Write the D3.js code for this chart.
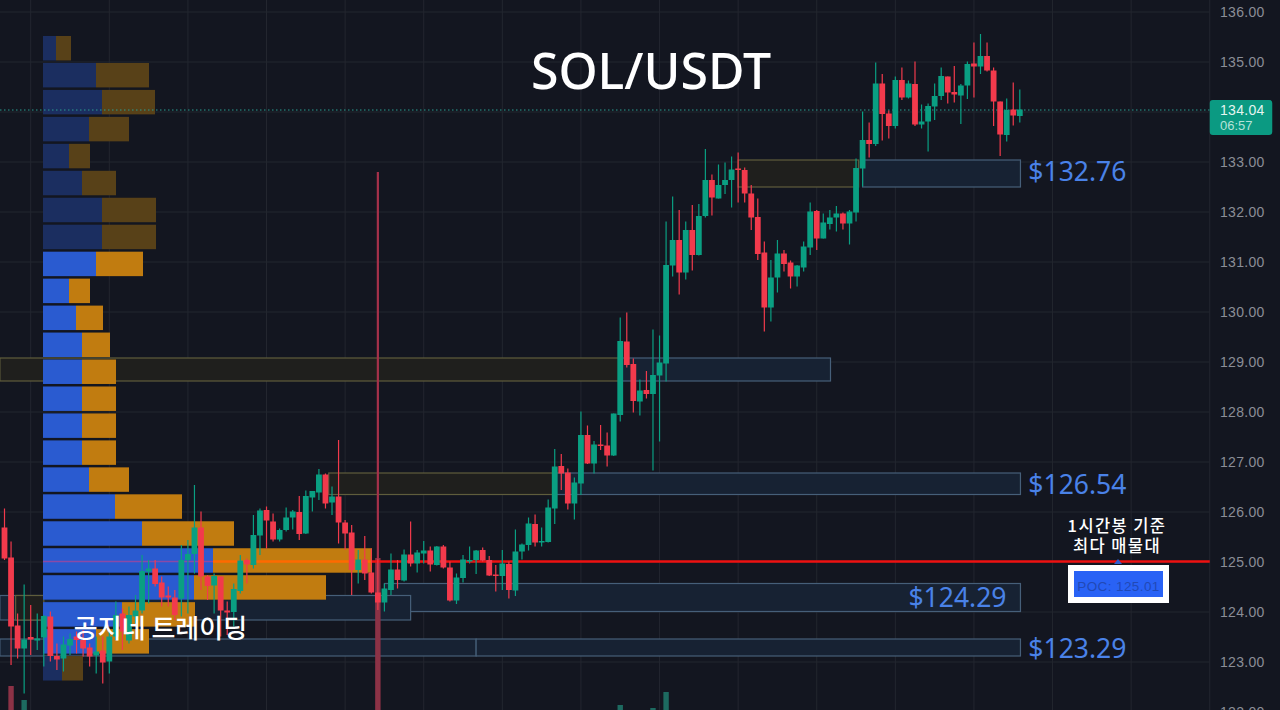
<!DOCTYPE html>
<html>
<head>
<meta charset="utf-8">
<script src="https://cdn.jsdelivr.net/npm/d3@7"></script>
<style>
  body { margin:0; background:#131620; overflow:hidden; }
  svg { display:block; }
  text { font-family:"Noto Sans","Noto Sans CJK KR",sans-serif; }
</style>
</head>
<body>
<div id="chart"></div>
<script>
// candles
var candleOpen = [
  125.69,125.09,123.73,123.27,123.50,123.43,123.49,123.91,123.12,123.07,
  123.33,123.51,123.44,123.29,123.13,123.23,123.01,123.51,123.97,123.43,
  123.91,124.03,124.81,124.87,124.59,124.33,124.29,124.27,125.04,125.16,
  125.69,124.71,124.53,124.71,124.03,124.00,124.42,125.04,124.94,125.53,
  126.04,125.81,125.45,125.64,125.89,126.00,125.57,126.29,126.39,126.75,
  126.19,126.31,125.79,125.59,124.84,125.05,124.79,124.39,124.19,124.44,
  124.85,124.63,125.15,124.97,125.17,125.23,124.94,125.31,124.89,124.23,
  124.68,125.01,125.04,125.24,125.04,124.75,124.72,124.96,124.43,125.21,
  125.34,125.76,125.40,125.40,126.07,126.92,126.79,126.17,126.57,127.54,
  126.97,127.35,127.33,127.13,127.94,129.41,128.96,128.21,128.44,128.36,
  128.73,128.97,130.93,131.44,130.79,131.64,131.14,131.92,132.64,132.27,
  132.54,132.64,132.87,132.84,132.37,131.90,131.19,130.09,130.69,131.17,
  130.99,130.71,130.89,131.29,132.02,131.47,131.76,131.89,131.97,131.77,
  131.99,132.87,133.44,133.36,134.57,133.97,133.72,134.64,134.29,134.56,
  133.75,133.81,134.11,134.32,134.71,134.40,134.33,134.53,134.97,134.91,
  135.12,134.83,134.21,133.54,134.05,133.92];
var candleHigh = [
  126.07,125.41,123.97,124.55,124.14,123.97,123.94,124.01,123.37,123.51,
  123.57,123.61,123.64,123.37,123.51,123.51,123.64,124.21,124.07,124.11,
  124.34,125.14,125.04,125.04,124.71,124.51,124.44,125.34,125.44,126.54,
  126.01,124.74,124.77,124.71,124.21,124.57,125.14,125.07,125.94,126.07,
  126.11,125.97,125.67,126.09,126.04,126.32,126.43,126.42,126.86,126.77,
  126.51,127.44,125.84,125.74,125.24,125.52,125.27,125.07,124.57,125.17,
  125.04,125.25,125.81,125.24,125.42,125.31,125.32,125.34,125.01,124.77,
  125.14,125.31,125.24,125.29,125.12,124.94,125.24,125.01,125.65,125.37,
  125.89,125.95,125.69,126.25,127.26,127.16,126.87,126.69,128.01,127.73,
  127.42,127.74,127.59,127.97,129.89,129.99,129.07,128.65,128.82,129.65,
  129.53,131.81,132.31,132.04,131.81,132.14,132.16,133.26,132.75,132.95,
  132.99,133.11,133.19,132.89,132.54,132.27,131.41,131.04,131.44,131.24,
  131.03,130.94,131.41,132.19,132.04,131.97,132.04,132.12,131.99,132.04,
  133.07,134.01,133.79,134.99,134.76,134.03,134.71,134.89,134.63,135.01,
  134.15,134.17,134.57,134.89,134.71,134.92,134.56,135.01,135.39,135.56,
  135.39,134.89,134.21,134.27,134.59,134.45];
var candleLow = [
  125.04,122.94,123.07,122.37,123.14,123.24,122.91,123.01,122.84,122.81,
  123.14,123.17,123.11,122.91,122.77,122.57,122.77,123.44,123.24,123.37,
  123.77,123.97,124.17,124.51,124.11,124.11,123.84,123.91,123.97,124.77,
  124.44,124.24,123.97,123.51,123.54,123.71,124.37,124.57,124.87,125.14,
  125.27,125.41,125.41,125.61,125.65,125.44,125.56,126.01,126.24,126.07,
  125.94,125.37,125.24,124.34,124.57,124.64,124.37,124.04,124.01,124.34,
  124.47,124.61,124.91,124.79,124.97,124.81,124.93,124.87,124.21,124.16,
  124.59,124.97,124.76,125.01,124.72,124.41,124.44,124.27,124.32,125.05,
  125.23,125.31,125.31,125.39,125.76,126.44,126.05,125.85,126.34,126.96,
  126.77,127.24,126.91,127.12,127.81,128.89,127.99,127.93,128.27,126.83,
  127.41,128.61,130.71,130.35,130.65,130.83,131.13,131.89,131.93,132.27,
  132.36,132.09,132.19,132.19,131.64,131.04,129.61,129.81,130.39,130.81,
  130.47,130.51,130.81,131.14,131.24,131.47,131.65,131.61,131.65,131.35,
  131.81,132.51,133.09,133.32,133.43,133.47,133.67,134.24,134.27,133.72,
  133.67,133.21,133.84,134.24,134.17,134.19,133.76,134.26,134.29,134.76,
  134.81,133.72,133.12,133.41,133.73,133.79];
var candleClose = [
  125.07,123.71,123.27,123.45,123.45,123.47,123.92,123.12,123.05,123.35,
  123.46,123.44,123.27,123.11,123.21,122.99,123.51,123.94,123.61,123.94,
  124.03,124.82,124.87,124.56,124.29,124.29,123.94,125.04,125.16,125.69,
  124.71,124.52,124.72,124.03,123.99,124.46,125.03,124.95,125.54,126.03,
  125.83,125.45,125.64,125.89,126.01,125.56,126.32,126.42,126.75,126.17,
  126.31,125.79,125.57,124.84,125.05,124.77,124.39,124.19,124.47,124.85,
  124.64,125.15,124.97,125.19,125.23,124.95,125.31,124.89,124.23,124.69,
  125.05,125.04,125.23,125.03,124.73,124.73,124.97,124.44,125.21,125.35,
  125.77,125.39,125.42,126.09,126.91,126.77,126.17,126.59,127.54,126.97,
  127.35,127.33,127.13,127.97,129.42,128.94,128.22,128.43,128.36,128.74,
  128.99,130.94,131.44,130.79,131.64,131.14,131.92,132.64,132.29,132.54,
  132.64,132.85,132.85,132.37,131.89,131.16,130.09,130.69,131.17,130.96,
  130.71,130.93,131.31,132.01,131.47,131.79,131.89,131.97,131.77,132.01,
  132.88,133.44,133.36,134.57,133.96,133.72,134.64,134.29,134.57,133.75,
  133.81,134.12,134.32,134.72,134.39,134.35,134.53,134.96,134.91,135.12,
  134.83,134.21,133.55,134.04,133.93,134.05];

// the few volume bars that reach into view
var volCandle = [1, 3, 57, 94, 99, 101];
var volValue = [24, 10, 152, 5, 2, 18];

// volume profile rows, top to bottom
var profileBuy = [13,53,59,46,26,39,59,59,53,26,33,39,39,39,39,39,46,72,99,170,151,79,53,19];
var profileSell = [15,53,53,40,21,34,54,54,47,21,27,28,34,34,34,34,40,67,92,159,132,73,53,21];
var profileTop = 135.52, profileStep = 0.5392, profileGap = 0.05;
var valueAreaFirst = 8, valueAreaLast = 22;
var pocRow = 19;

var priceTicks = [136,135,134,133,132,131,130,129,128,127,126,125,124,123,122];
var lastPrice = 134.04, countdown = "06:57";
var pocPrice = 125.01;
var spikeTop = 132.8;

// zones: price top, price bottom, first and last candle index
var zoneTop = [133.04,133.04,129.08,129.08,126.78,126.78,124.57,124.33,124.33,123.46,123.46];
var zoneBottom = [132.50,132.50,128.62,128.62,126.35,126.35,124.01,123.84,123.84,123.12,123.12];
var zoneFrom = [112,131,-0.7,94,49.5,84,58,-0.7,1.7,-0.7,72];
var zoneTo = [130.4,155.1,94,126.1,84,155.1,155.1,62,6,72,155.1];
var zoneKind = ["y","b","y","b","y","b","b","b","y","b","b"];

var levelLabels = ["$132.76","$126.54","$124.29","$123.29"];
var levelPrices = [132.82,126.56,124.30,123.29];
var levelAnchor = [156.3,156.3,138,156.3];

var pocNote = ["1시간봉 기준","최다 매물대"];

var green = "#0a9f82", red = "#f23a4c";

var svg = d3.select("#chart").append("svg").attr("width",1280).attr("height",710);

var x = d3.scaleLinear().domain([0,155]).range([4.5,1019.8]);
var y = d3.scaleLinear().domain([136,122]).range([12,712]);
var vol = d3.scaleLinear().domain([0,100]).range([43,143]);
var volY = d3.scaleLinear().domain([0,100]).range([710,610]);
var right = x(184);

// grid
var gridV = d3.range(4,185,12);
svg.append("g").selectAll("line").data(gridV).join("line")
  .attr("x1",d=>x(d)).attr("x2",d=>x(d)).attr("y1",0).attr("y2",710)
  .attr("stroke","#23262f").attr("stroke-width",1);
svg.append("g").selectAll("line").data(priceTicks).join("line")
  .attr("x1",0).attr("x2",right).attr("y1",d=>y(d)).attr("y2",d=>y(d))
  .attr("stroke","#23262f").attr("stroke-width",1);

// zones
svg.append("g").selectAll("rect").data(d3.range(zoneTop.length)).join("rect")
  .attr("x",i=>x(zoneFrom[i])).attr("width",i=>x(zoneTo[i])-x(zoneFrom[i]))
  .attr("y",i=>y(zoneTop[i])).attr("height",i=>y(zoneBottom[i])-y(zoneTop[i]))
  .attr("fill",i=>zoneKind[i]=="y"?"#1f1f1d":"#172233")
  .attr("stroke",i=>zoneKind[i]=="y"?"#5f5d3c":"#465f79")
  .attr("stroke-width",1.2);

// volume bars
svg.append("g").selectAll("rect").data(volCandle).join("rect")
  .attr("x",d=>x(d)-2.7).attr("width",5.4)
  .attr("y",(d,i)=>volY(volValue[i])).attr("height",(d,i)=>710-volY(volValue[i]))
  .attr("fill",(d,i)=>candleClose[d]>=candleOpen[d]?"#1d6a60":"#8c3246");

// thin spike above the big volume bar
svg.append("line").attr("x1",x(57)).attr("x2",x(57)).attr("y1",y(spikeTop)).attr("y2",volY(152))
  .attr("stroke","#a5314a").attr("stroke-width",2.2);

// volume profile
var rowTop = k=>y(profileTop-k*profileStep);
var rowH = y(0)-y(profileStep-profileGap);
var inVA = k=>k>=valueAreaFirst && k<=valueAreaLast;
var rows = svg.append("g").selectAll("g").data(profileBuy).join("g");
rows.append("rect")
  .attr("x",vol(0)).attr("y",(d,k)=>rowTop(k)).attr("height",rowH)
  .attr("width",d=>vol(d)-vol(0))
  .attr("fill",(d,k)=>inVA(k)?"#2a5bd0":"#1b2e60");
rows.append("rect")
  .attr("x",d=>vol(d)).attr("y",(d,k)=>rowTop(k)).attr("height",rowH)
  .attr("width",(d,k)=>vol(profileSell[k])-vol(0))
  .attr("fill",(d,k)=>inVA(k)?"#c17c10":"#584118");

// POC line: tinted over the profile, pure red after it
var pocBuyEnd = vol(profileBuy[pocRow]);
var pocSellEnd = vol(profileBuy[pocRow]+profileSell[pocRow]);
svg.append("line").attr("x1",vol(0)).attr("x2",pocBuyEnd).attr("y1",y(pocPrice)).attr("y2",y(pocPrice))
  .attr("stroke","#8a4aa6").attr("stroke-width",1.5);
svg.append("line").attr("x1",pocBuyEnd).attr("x2",pocSellEnd).attr("y1",y(pocPrice)).attr("y2",y(pocPrice))
  .attr("stroke","#ff6a00").attr("stroke-width",2.6);
svg.append("line").attr("x1",pocSellEnd).attr("x2",right).attr("y1",y(pocPrice)).attr("y2",y(pocPrice))
  .attr("stroke","#ee1111").attr("stroke-width",2.6);

// last price line
svg.append("line").attr("x1",0).attr("x2",right).attr("y1",y(lastPrice)).attr("y2",y(lastPrice))
  .attr("stroke","#2a9d90").attr("stroke-width",1).attr("stroke-dasharray","1.5 2.5");

// candles
var candles = svg.append("g").selectAll("g").data(candleOpen).join("g")
  .attr("fill",(d,i)=>candleClose[i]>=d?green:red)
  .attr("stroke",(d,i)=>candleClose[i]>=d?green:red);
candles.append("line")
  .attr("x1",(d,i)=>x(i)).attr("x2",(d,i)=>x(i))
  .attr("y1",(d,i)=>y(candleHigh[i])).attr("y2",(d,i)=>y(candleLow[i]))
  .attr("stroke-width",1.2);
candles.append("rect")
  .attr("x",(d,i)=>x(i)-2.9).attr("width",5.8)
  .attr("y",(d,i)=>y(Math.max(d,candleClose[i])))
  .attr("height",(d,i)=>Math.max(1.5,Math.abs(y(d)-y(candleClose[i]))))
  .attr("stroke","none");

// price axis
svg.append("g").selectAll("text").data(priceTicks).join("text")
  .attr("x",1220).attr("y",d=>y(d)+5)
  .attr("fill","#8b8e97").attr("font-size",14)
  .style("font-family","'Liberation Sans',sans-serif").style("letter-spacing","0.3px")
  .text(d=>d3.format(".2f")(d));

svg.append("rect").attr("x",right).attr("y",y(lastPrice)-10).attr("width",62.5).attr("height",35)
  .attr("rx",3).attr("fill","#0b9a82");
svg.append("text").attr("x",1220).attr("y",y(lastPrice)+5).attr("fill","#e6f5f1").attr("font-size",14)
  .style("font-family","'Liberation Sans',sans-serif").style("letter-spacing","0.3px")
  .text(d3.format(".2f")(lastPrice));
svg.append("text").attr("x",1220).attr("y",y(lastPrice)+20).attr("fill","#b5e2d8").attr("font-size",13)
  .style("font-family","'Liberation Sans',sans-serif").text(countdown);

// level labels
svg.append("g").selectAll("text").data(levelLabels).join("text")
  .attr("x",(d,i)=>x(levelAnchor[i])).attr("y",(d,i)=>y(levelPrices[i])+10)
  .attr("fill","#4a82e8").attr("font-size",26.5)
  .text(d=>d);

// titles
svg.append("text").attr("x",651).attr("y",89).attr("text-anchor","middle")
  .attr("fill","#ffffff").attr("font-size",50).attr("font-weight",500).text("SOL/USDT");
svg.append("text").attr("x",160.5).attr("y",638).attr("text-anchor","middle")
  .attr("fill","#ffffff").attr("font-size",26).attr("font-weight",500)
  .style("font-family","'Noto Sans CJK KR'").text("공지네 트레이딩");

// POC note, one text on two lines
svg.append("text").attr("text-anchor","middle")
  .attr("fill","#ffffff").attr("font-size",16.5).attr("font-weight",500).style("letter-spacing","1.4px")
  .style("font-family","'Noto Sans CJK KR'")
  .selectAll("tspan").data(pocNote).join("tspan")
  .attr("x",1117).attr("y",(d,i)=>532+i*20).text(d=>d);

// POC tag
svg.append("path").attr("d","M1118 559 l4 5 h-8 z").attr("fill","#2f5fd0");
svg.append("rect").attr("x",1068).attr("y",565).attr("width",101).attr("height",38).attr("fill","#ffffff");
svg.append("rect").attr("x",1074).attr("y",571).attr("width",89).attr("height",26).attr("fill","#2962f5");
svg.append("text").attr("x",1118.5).attr("y",591).attr("text-anchor","middle")
  .attr("fill","#2149b5").attr("font-size",13.5).style("letter-spacing","0.4px")
  .style("font-family","'Liberation Sans',sans-serif")
  .text("POC: "+pocPrice.toFixed(2));
</script>
</body>
</html>
